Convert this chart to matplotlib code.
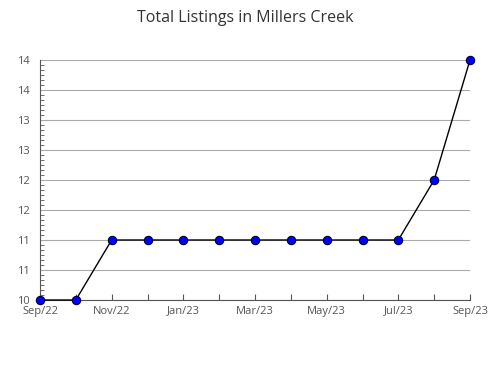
import matplotlib.pyplot as plt
from matplotlib.ticker import MultipleLocator

plt.rcParams['font.family'] = ['Open Sans', 'DejaVu Sans']

# --- data ---
months = ['Sep/22', 'Oct/22', 'Nov/22', 'Dec/22', 'Jan/23', 'Feb/23', 'Mar/23',
          'Apr/23', 'May/23', 'Jun/23', 'Jul/23', 'Aug/23', 'Sep/23']
listings = [10, 10, 11, 11, 11, 11, 11, 11, 11, 11, 11, 12, 14]
y_ticks = [10, 10.5, 11, 11.5, 12, 12.5, 13, 13.5, 14]
y_labels = ['10', '11', '11', '12', '12', '13', '13', '14', '14']

fig = plt.figure(figsize=(4.9, 3.8), dpi=100)
ax = fig.add_axes([40 / 490, 80 / 380, 430 / 490, 240 / 380])

x = list(range(len(months)))
ax.plot(x, listings, color='black', linewidth=1, marker='o', markersize=6,
        markerfacecolor='#0000ff', markeredgecolor='#000033', markeredgewidth=0.8,
        clip_on=False, zorder=3)

ax.set_xlim(0, len(months) - 1)
ax.set_ylim(10, 14)

ax.set_xticks(x)
ax.set_xticklabels([m if i % 2 == 0 else '' for i, m in enumerate(months)])
ax.set_yticks(y_ticks)
ax.set_yticklabels(y_labels)
ax.yaxis.set_minor_locator(MultipleLocator(0.5 / 6))

ax.tick_params(axis='both', which='both', direction='in', colors='#555555',
               labelcolor='#555555', labelsize=8)
ax.tick_params(axis='x', which='major', length=4, pad=4)
ax.tick_params(axis='y', which='major', length=0, pad=7)
ax.tick_params(axis='y', which='minor', length=3)

ax.grid(axis='y', color='#aaaaaa', linewidth=0.8)
ax.set_axisbelow(True)
for side in ['top', 'right']:
    ax.spines[side].set_visible(False)
for side in ['left', 'bottom']:
    ax.spines[side].set_color('#555555')
    ax.spines[side].set_linewidth(0.8)

fig.suptitle('Total Listings in Millers Creek', y=0.975, fontsize=11.5, color='#333333')

fig.savefig('out.png', dpi=100)
